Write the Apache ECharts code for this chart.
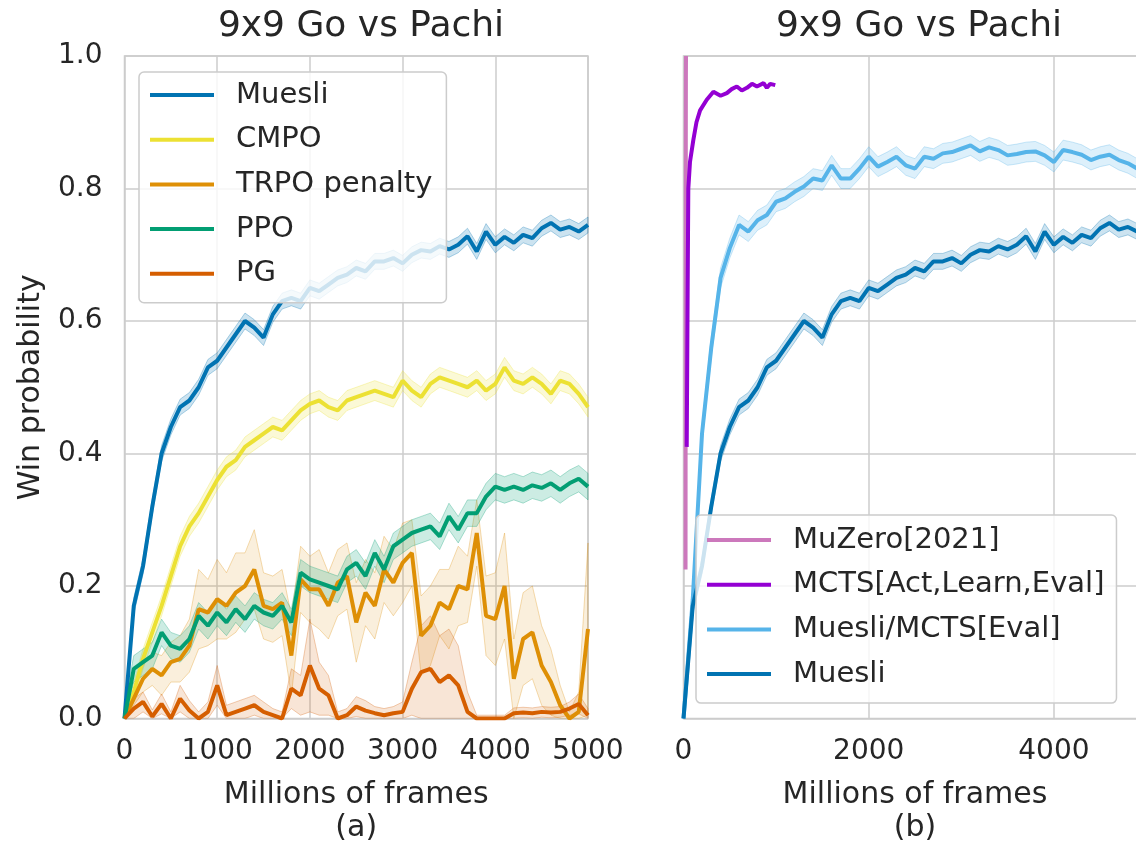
<!DOCTYPE html>
<html>
<head>
<meta charset="utf-8">
<script src="https://cdn.jsdelivr.net/npm/echarts@6/dist/echarts.min.js"></script>
<style>
  html, body { margin: 0; padding: 0; background: #fff; }
  #chart { width: 1136px; height: 843px; }
</style>
</head>
<body>
<div id="chart"></div>
<script>
// sample points (millions of frames), 100 apart
var frames = [0, 100, 200, 300, 400, 500, 600, 700, 800, 900, 1000, 1100, 1200, 1300, 1400, 1500, 1600, 1700, 1800, 1900,
  2000, 2100, 2200, 2300, 2400, 2500, 2600, 2700, 2800, 2900, 3000, 3100, 3200, 3300, 3400, 3500, 3600, 3700, 3800, 3900,
  4000, 4100, 4200, 4300, 4400, 4500, 4600, 4700, 4800, 4900, 5000];

var muesli = [0.0, 0.17, 0.23, 0.32, 0.40, 0.44, 0.47, 0.48, 0.50, 0.53, 0.54, 0.56, 0.58, 0.60, 0.59, 0.575, 0.61, 0.63, 0.635, 0.63,
  0.65, 0.645, 0.655, 0.665, 0.67, 0.68, 0.675, 0.69, 0.69, 0.695, 0.687, 0.70, 0.707, 0.705, 0.713, 0.708, 0.715, 0.728, 0.705, 0.735,
  0.715, 0.727, 0.718, 0.73, 0.725, 0.74, 0.748, 0.738, 0.742, 0.735, 0.745];
var cmpo = [0.0, 0.04, 0.09, 0.13, 0.17, 0.215, 0.26, 0.29, 0.31, 0.335, 0.36, 0.38, 0.39, 0.41, 0.42, 0.43, 0.44, 0.435, 0.45, 0.465,
  0.475, 0.48, 0.47, 0.465, 0.48, 0.485, 0.49, 0.495, 0.49, 0.485, 0.51, 0.495, 0.485, 0.505, 0.515, 0.51, 0.505, 0.50, 0.51, 0.495,
  0.505, 0.53, 0.51, 0.505, 0.515, 0.505, 0.49, 0.51, 0.505, 0.49, 0.47];
var trpo = [0.0, 0.03, 0.06, 0.075, 0.065, 0.085, 0.09, 0.11, 0.165, 0.16, 0.18, 0.17, 0.19, 0.20, 0.225, 0.17, 0.165, 0.175, 0.095, 0.21,
  0.195, 0.195, 0.17, 0.205, 0.215, 0.145, 0.19, 0.17, 0.225, 0.205, 0.235, 0.25, 0.125, 0.14, 0.175, 0.165, 0.20, 0.195, 0.28, 0.155,
  0.15, 0.20, 0.06, 0.12, 0.13, 0.08, 0.055, 0.02, 0.0, 0.01, 0.135];
var ppo = [0.0, 0.075, 0.085, 0.095, 0.13, 0.11, 0.105, 0.12, 0.155, 0.14, 0.16, 0.145, 0.165, 0.15, 0.17, 0.16, 0.155, 0.17, 0.145, 0.22,
  0.21, 0.205, 0.20, 0.195, 0.225, 0.235, 0.215, 0.25, 0.225, 0.26, 0.27, 0.28, 0.285, 0.29, 0.275, 0.305, 0.285, 0.31, 0.31, 0.335,
  0.35, 0.345, 0.35, 0.345, 0.352, 0.348, 0.355, 0.345, 0.355, 0.362, 0.35];
var pg = [0.0, 0.015, 0.025, 0.003, 0.022, 0.0, 0.03, 0.012, 0.0, 0.01, 0.05, 0.005, 0.01, 0.015, 0.02, 0.01, 0.005, 0.0, 0.045, 0.035,
  0.08, 0.045, 0.035, 0.0, 0.005, 0.018, 0.012, 0.008, 0.005, 0.008, 0.01, 0.045, 0.07, 0.075, 0.055, 0.065, 0.05, 0.01, 0.0, 0.0,
  0.0, 0.0, 0.008, 0.009, 0.008, 0.01, 0.009, 0.01, 0.015, 0.022, 0.005];
var muesliMcts = [0.0, 0.18, 0.43, 0.56, 0.665, 0.71, 0.745, 0.735, 0.752, 0.76, 0.78, 0.785, 0.795, 0.803, 0.815, 0.812, 0.835, 0.815, 0.815, 0.83,
  0.848, 0.833, 0.84, 0.848, 0.835, 0.83, 0.848, 0.845, 0.853, 0.855, 0.86, 0.865, 0.856, 0.862, 0.858, 0.85, 0.852, 0.855, 0.856, 0.85,
  0.84, 0.858, 0.855, 0.851, 0.843, 0.848, 0.851, 0.843, 0.838, 0.83, 0.832];

// half-widths of the shaded bands
var trpoSpread = [0.0, 0.01, 0.02, 0.025, 0.03, 0.03, 0.035, 0.04, 0.06, 0.05, 0.06, 0.05, 0.06, 0.05, 0.06, 0.05, 0.05, 0.05, 0.06, 0.05,
  0.05, 0.06, 0.05, 0.05, 0.05, 0.06, 0.05, 0.05, 0.05, 0.05, 0.06, 0.05, 0.06, 0.06, 0.05, 0.06, 0.06, 0.05, 0.05, 0.06,
  0.07, 0.08, 0.06, 0.07, 0.07, 0.06, 0.05, 0.03, 0.01, 0.03, 0.13];
var pgSpread = [0.0, 0.015, 0.015, 0.01, 0.015, 0.01, 0.02, 0.015, 0.01, 0.015, 0.03, 0.015, 0.015, 0.015, 0.015, 0.015, 0.01, 0.01, 0.03, 0.03,
  0.07, 0.04, 0.03, 0.01, 0.01, 0.015, 0.015, 0.01, 0.01, 0.01, 0.015, 0.04, 0.07, 0.08, 0.07, 0.07, 0.06, 0.03, 0.005, 0.005,
  0.005, 0.005, 0.008, 0.008, 0.008, 0.008, 0.008, 0.008, 0.01, 0.015, 0.01];
var muesliSpread = 0.012, cmpoSpread = 0.015, ppoSpread = 0.02, muesliMctsSpread = 0.015;

// right panel short runs with their own frames
var mctsFrames = [35, 45, 52, 70, 106, 140, 179, 251, 323, 400, 468, 520, 576, 630, 685, 740, 793, 865, 900, 937, 991];
var mctsWin = [0.41, 0.65, 0.80, 0.84, 0.873, 0.90, 0.918, 0.934, 0.946, 0.94, 0.944, 0.95, 0.954, 0.948, 0.952, 0.958, 0.954, 0.959, 0.952, 0.958, 0.956];
var muzeroFrames = [22, 23, 24, 25, 26, 27];
var muzeroWin = [0.225, 0.45, 0.7, 0.88, 0.97, 1.0];

var leftNames = ['Muesli', 'CMPO', 'TRPO penalty', 'PPO', 'PG'];
var rightNames = ['MuZero[2021]', 'MCTS[Act,Learn,Eval]', 'Muesli/MCTS[Eval]', 'Muesli'];
var titles = ['9x9 Go vs Pachi', '9x9 Go vs Pachi'];
var subLabels = ['(a)', '(b)'];

var C = {
  muesli: '#0173b2', cmpo: '#ece133', trpo: '#de8f05', ppo: '#029e73', pg: '#d55e00',
  muzero: '#cc78bc', mcts: '#9400d3', muesliMcts: '#56b4e9'
};
var FONT = 'DejaVu Sans';
var TXT = '#262626';

function pairs(xs, ys) {
  return xs.map(function(x, i) { return [x, ys[i]]; });
}
function fade(hex, a) {
  var n = parseInt(hex.slice(1), 16);
  return 'rgba(' + (n >> 16 & 255) + ',' + (n >> 8 & 255) + ',' + (n & 255) + ',' + a + ')';
}
// shaded band drawn as one polygon through the axis scales
function band(vals, spread, color, axisIdx, alpha) {
  var sp = function(i) { return Array.isArray(spread) ? spread[i] : spread; };
  var lo = vals.map(function(v, i) { return Math.max(0, v - sp(i)); });
  var hi = vals.map(function(v, i) { return Math.min(1, v + sp(i)); });
  return {
    type: 'custom', xAxisIndex: axisIdx, yAxisIndex: axisIdx, silent: true, z: 1, clip: true,
    data: [[frames[0], vals[0]]],
    renderItem: function(params, api) {
      var pts = [];
      for (var i = 0; i < frames.length; i++) pts.push(api.coord([frames[i], hi[i]]));
      for (var j = frames.length - 1; j >= 0; j--) pts.push(api.coord([frames[j], lo[j]]));
      return {
        type: 'polygon', shape: { points: pts },
        style: { fill: fade(color, alpha || 0.2), stroke: fade(color, 0.3), lineWidth: 1 }
      };
    }
  };
}
function line(name, xs, ys, color, axisIdx) {
  return {
    type: 'line', name: name, xAxisIndex: axisIdx, yAxisIndex: axisIdx,
    data: pairs(xs, ys), showSymbol: false, z: 2,
    lineStyle: { color: color, width: 4 }, itemStyle: { color: color }
  };
}

var series = [
  band(muesli, muesliSpread, C.muesli, 0),
  band(cmpo, cmpoSpread, C.cmpo, 0),
  band(trpo, trpoSpread, C.trpo, 0, 0.14),
  band(ppo, ppoSpread, C.ppo, 0),
  band(pg, pgSpread, C.pg, 0, 0.16),
  line('Muesli', frames, muesli, C.muesli, 0),
  line('CMPO', frames, cmpo, C.cmpo, 0),
  line('TRPO penalty', frames, trpo, C.trpo, 0),
  line('PPO', frames, ppo, C.ppo, 0),
  line('PG', frames, pg, C.pg, 0),
  band(muesliMcts, muesliMctsSpread, C.muesliMcts, 1),
  band(muesli, muesliSpread, C.muesli, 1),
  line('MuZero[2021]', muzeroFrames, muzeroWin, C.muzero, 1),
  line('MCTS[Act,Learn,Eval]', mctsFrames, mctsWin, C.mcts, 1),
  line('Muesli/MCTS[Eval]', frames, muesliMcts, C.muesliMcts, 1),
  line('Muesli', frames, muesli, C.muesli, 1)
];

var grids = [
  { left: 124.5, top: 56, width: 463.5, height: 662.5 },
  { left: 683.5, top: 56, width: 463, height: 662.5 }
];
grids.forEach(function(g) {
  g.show = true; g.borderColor = '#cccccc'; g.borderWidth = 1.5; g.backgroundColor = '#fff';
  g.outerBoundsMode = 'none'; g.containLabel = false;
});

function xAxis(idx, interval) {
  return {
    type: 'value', gridIndex: idx, min: 0, max: 5000, interval: interval,
    name: 'Millions of frames\n' + subLabels[idx], nameLocation: 'middle', nameGap: 60,
    nameTextStyle: { fontFamily: FONT, fontSize: 30, color: TXT, lineHeight: 33 },
    axisLine: { show: false }, axisTick: { show: false },
    axisLabel: {
      fontFamily: FONT, fontSize: 28, color: TXT, margin: 19, showMaxLabel: idx === 0,
      formatter: function(v) { return String(v); }
    },
    splitLine: { lineStyle: { color: '#cccccc', width: 1.5 } }
  };
}
function yAxis(idx) {
  return {
    type: 'value', gridIndex: idx, min: 0, max: 1, interval: 0.2,
    name: idx === 0 ? 'Win probability' : '', nameLocation: 'middle', nameGap: 78,
    nameTextStyle: { fontFamily: FONT, fontSize: 30, color: TXT },
    axisLine: { show: false }, axisTick: { show: false },
    axisLabel: {
      show: idx === 0, fontFamily: FONT, fontSize: 28, color: TXT, margin: 22,
      formatter: function(v) { return v.toFixed(1); }
    },
    splitLine: { lineStyle: { color: '#cccccc', width: 1.5 } }
  };
}

function legend(names, left, top, pad) {
  return {
    data: names, left: left, top: top, orient: 'vertical',
    icon: 'rect', itemWidth: 64, itemHeight: 4, itemGap: 12.7,
    padding: pad,
    backgroundColor: 'rgba(255,255,255,0.8)', borderColor: '#cccccc', borderWidth: 1.5, borderRadius: 5,
    textStyle: { fontFamily: FONT, fontSize: 29, color: TXT, lineHeight: 32, padding: [0, 0, 0, 17] },
    selectedMode: false, z: 10
  };
}

var chart = echarts.init(document.getElementById('chart'), null, { renderer: 'canvas' });
chart.setOption({
  backgroundColor: '#fff',
  animation: false,
  title: [
    { text: titles[0], left: 356, top: 4, textAlign: 'center',
      textStyle: { fontFamily: FONT, fontSize: 36, fontWeight: 'normal', color: TXT } },
    { text: titles[1], left: 914, top: 4, textAlign: 'center',
      textStyle: { fontFamily: FONT, fontSize: 36, fontWeight: 'normal', color: TXT } }
  ],
  grid: grids,
  xAxis: [xAxis(0, 1000), xAxis(1, 2000)],
  yAxis: [yAxis(0), yAxis(1)],
  legend: [legend(leftNames, 139, 72, [7, 14, 13, 11]), legend(rightNames, 696, 515, [9, 12, 13, 11])],
  series: series
});
</script>
</body>
</html>
